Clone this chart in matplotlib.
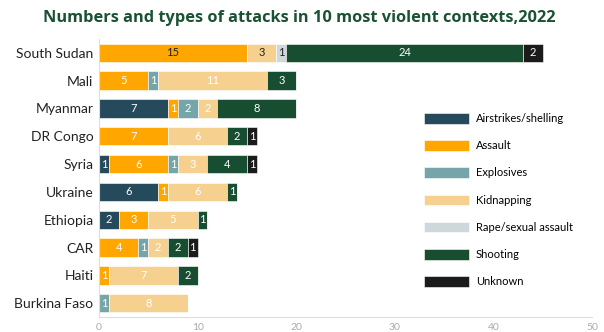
import matplotlib.pyplot as plt
import numpy as np

# Data
countries = ['South Sudan', 'Mali', 'Myanmar', 'DR Congo', 'Syria',
             'Ukraine', 'Ethiopia', 'CAR', 'Haiti', 'Burkina Faso']
types = ['Airstrikes/shelling', 'Assault', 'Explosives', 'Kidnapping',
         'Rape/sexual assault', 'Shooting', 'Unknown']
airstrikes = [0, 0, 7, 0, 1, 6, 2, 0, 0, 0]
assault = [15, 5, 1, 7, 6, 1, 3, 4, 1, 0]
explosives = [0, 1, 2, 0, 1, 0, 0, 1, 0, 1]
kidnapping = [3, 11, 2, 6, 3, 6, 5, 2, 7, 8]
rape = [1, 0, 0, 0, 0, 0, 0, 0, 0, 0]
shooting = [24, 3, 8, 2, 4, 1, 1, 2, 2, 0]
unknown = [2, 0, 0, 1, 1, 0, 0, 1, 0, 0]

series = [airstrikes, assault, explosives, kidnapping, rape, shooting, unknown]
colors = ['#244a5b', '#ffa600', '#75a5a9', '#f5d08f', '#ced7d9', '#174d30', '#1b1b1b']

plt.rcParams['font.family'] = ['Lato', 'DejaVu Sans']

fig = plt.figure(figsize=(6.04, 3.32), dpi=100)
ax = fig.add_axes([0.164, 0.045, 0.816, 0.838])

y = np.arange(len(countries))
left = np.zeros(len(countries))
for vals, name, col in zip(series, types, colors):
    vals = np.array(vals)
    ax.barh(y, vals, left=left, height=0.66, color=col, label=name,
            edgecolor='white', linewidth=0.4)
    for i, v in enumerate(vals):
        if v > 0:
            # first row light segments use dark text
            tcol = '#222222' if (i == 0 and name in ('Assault', 'Kidnapping', 'Rape/sexual assault')) else 'white'
            ax.text(left[i] + v / 2, y[i], str(v), ha='center', va='center',
                    fontsize=8, color=tcol)
    left += vals

ax.set_ylim(len(countries) - 0.5, -0.5)
ax.set_xlim(0, 50)
ax.set_yticks(y)
ax.set_yticklabels(countries, fontsize=10, color='#222222')
ax.set_xticks([0, 10, 20, 30, 40, 50])
ax.tick_params(axis='x', labelsize=7.5, colors='#aaaaaa', length=0, pad=4)
ax.tick_params(axis='y', length=0, pad=4)
for s in ['top', 'right']:
    ax.spines[s].set_visible(False)
ax.spines['left'].set_color('#dddddd')
ax.spines['bottom'].set_color('#dddddd')

ax.legend(loc='upper left', bbox_to_anchor=(0.685, 0.69), bbox_transform=fig.transFigure,
          frameon=False, fontsize=8, handlelength=4.1, handleheight=1.1,
          labelspacing=1.45, handletextpad=0.6)

fig.suptitle('Numbers and types of attacks in 10 most violent contexts,2022',
             x=0.495, y=0.97, fontsize=11.8, fontweight='bold', color='#1a5233',
             family=['Open Sans', 'DejaVu Sans'])

plt.savefig('out.png', dpi=100)
plt.close()
